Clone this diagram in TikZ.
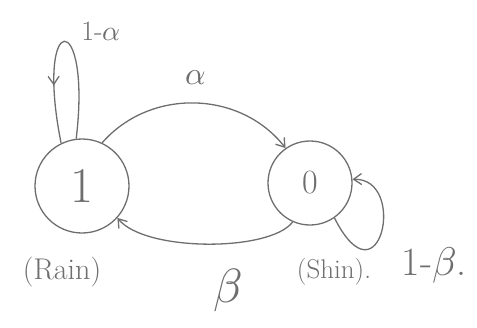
\documentclass[tikz,border=0pt]{standalone}
\usepackage{unicode-math}
\setmathfont{Latin Modern Math}
\usetikzlibrary{arrows.meta,decorations.markings}
\definecolor{pencil}{RGB}{110,110,110}
\begin{document}
\begin{tikzpicture}[x=1pt,y=-1pt,
  stroke/.style={draw=pencil,line width=1.3pt},
  statebox/.style={circle,stroke,inner sep=0pt,text=pencil},
  arr/.style={stroke,-{Straight Barb[length=8pt,width=11pt]}},
  lbl/.style={text=pencil,inner sep=0pt}]
\useasboundingbox (0,0) rectangle (477,327);
\node[statebox,minimum size=94pt,font=\fontsize{50}{52}\selectfont] (n1) at (82,186) {1};
\node[statebox,minimum size=84pt,font=\fontsize{34}{36}\selectfont] (n0) at (310,183) {0};
% self loop on 1
\draw[stroke,postaction={decorate},decoration={markings,
  mark=at position 0.72 with {\arrow{Straight Barb[length=8pt,width=11pt]}}}]
  (n1.97) .. controls (92,8) and (34,8) .. (n1.116);
% 1 -> 0
\draw[arr] (n1.65) .. controls (150,88) and (240,90) .. (n0.125);
% 0 -> 1
\draw[arr] (n0.246) .. controls (270,252) and (145,252) .. (n1.318);
% self loop on 0
\draw[arr] (n0.305) .. controls (380,308) and (408,178) .. (n0.5);
% labels
\node[lbl,font=\fontsize{28}{30}\selectfont] (la) at (101,31) {1-$\alpha$};
\node[lbl,font=\fontsize{32}{34}\selectfont] (lb) at (196,78) {$\alpha$};
\node[lbl,font=\fontsize{48}{50}\selectfont] (lc) at (228,290) {$\beta$};
\node[lbl,font=\fontsize{40}{42}\selectfont] (ld) at (434,265) {1-$\beta$.};
\node[lbl,font=\fontsize{30}{32}\selectfont] (le) at (62,272) {(Rain)};
\node[lbl,font=\fontsize{27}{29}\selectfont] (lf) at (334,272) {(Shin).};
\end{tikzpicture}
\end{document}
